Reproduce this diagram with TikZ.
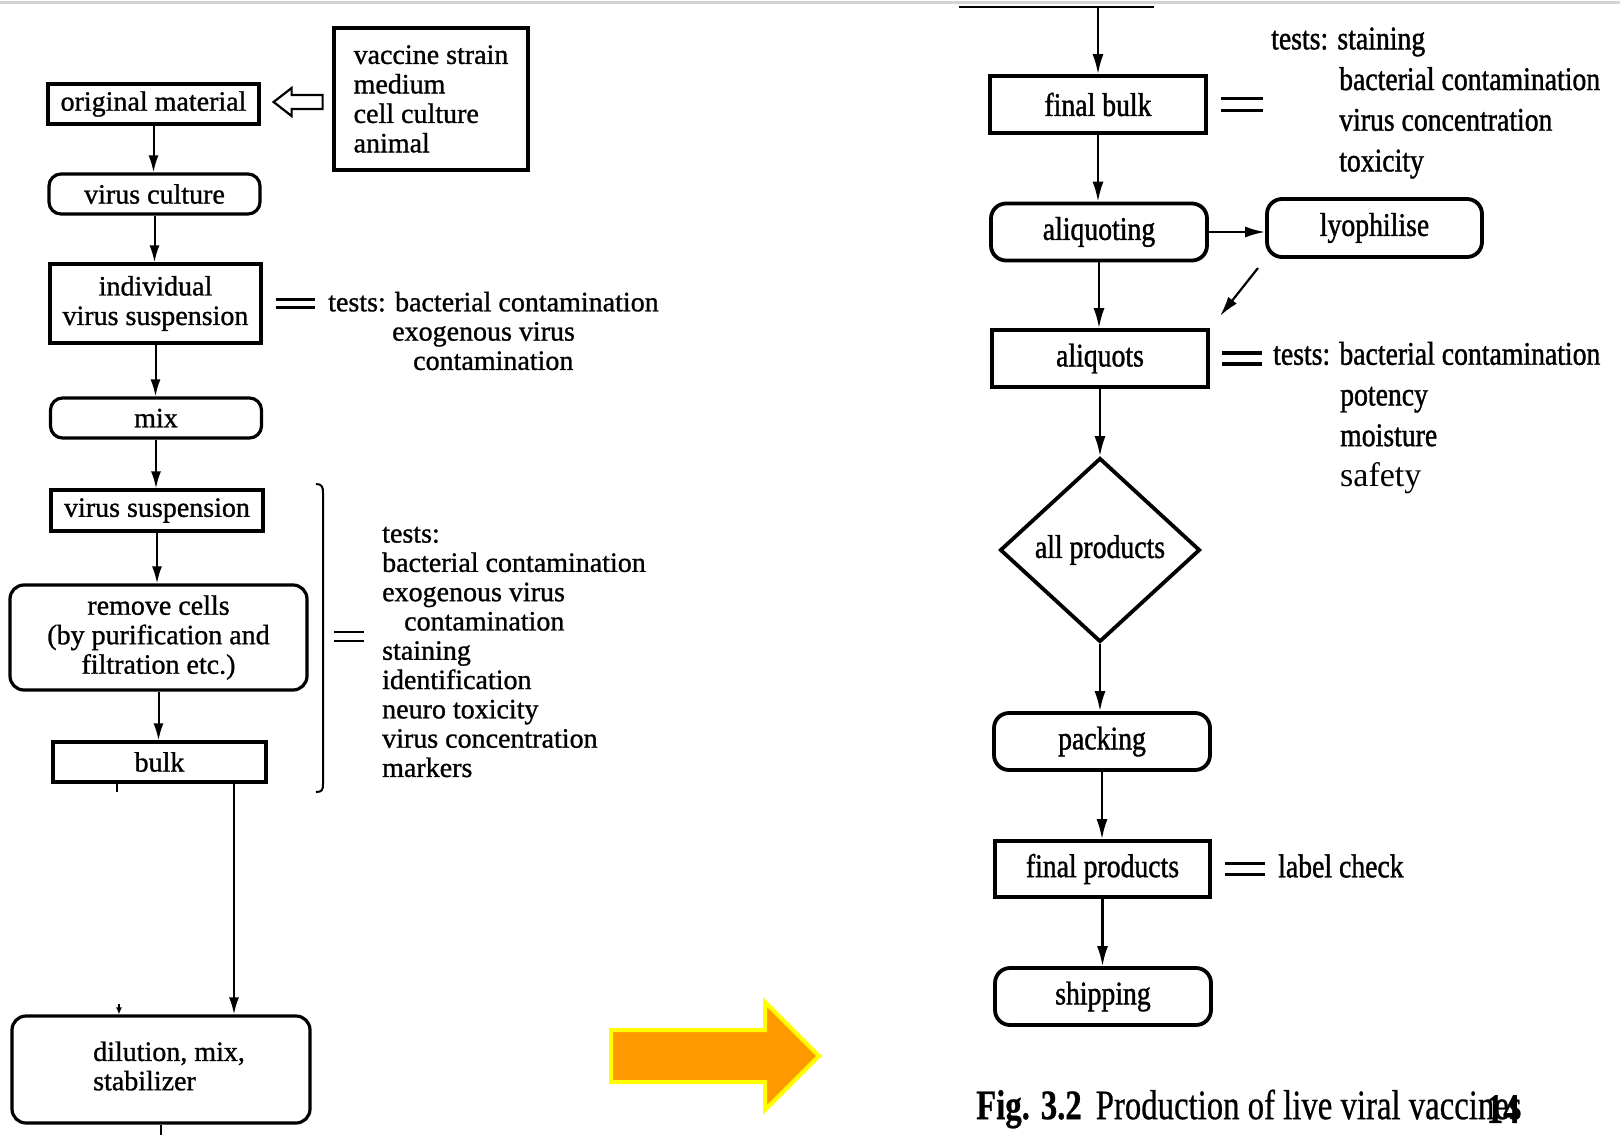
\documentclass[tikz,border=0pt]{standalone}
\usepackage{fontspec}
\setmainfont{Liberation Serif}[FakeBold=1]
\newfontfamily\narrowfont[FakeStretch=0.84,FakeBold=1.2]{Liberation Serif}
\newfontfamily\safetyfont{Liberation Serif}
\newfontfamily\capfont[FakeStretch=0.78,FakeBold=0.6]{Liberation Serif}
\usetikzlibrary{arrows.meta,shapes.geometric,calc}
\definecolor{inkBlack}{HTML}{000000}
\definecolor{scanGray}{HTML}{D4D4D4}
\definecolor{slideOrange}{HTML}{FF9900}
\definecolor{slideYellow}{HTML}{FFFF00}
\tikzset{
  lbox/.style={draw=inkBlack, line width=3.2pt, minimum width=211pt, minimum height=40pt,
        align=center, inner sep=2pt, font=\fontsize{28}{29.5}\selectfont},
  lround/.style={lbox, rounded corners=12pt},
  rbox/.style={draw=inkBlack, line width=3.8pt, minimum width=216pt, minimum height=57pt,
        align=center, inner sep=2pt, font=\narrowfont\fontsize{33}{40}\selectfont},
  rround/.style={rbox, rounded corners=15pt},
  flow/.style={-{Latex[length=17pt,width=10pt]}, line width=2pt, draw=inkBlack},
  rflow/.style={-{Latex[length=20pt,width=11pt]}, line width=2.2pt, draw=inkBlack},
  eqbar/.style={line width=2.8pt, draw=inkBlack},
  ltxt/.style={align=left, anchor=west, inner sep=0pt, font=\fontsize{28}{29.3}\selectfont},
  rtxt/.style={align=left, anchor=west, inner sep=0pt, font=\narrowfont\fontsize{33}{40.7}\selectfont}
}

\begin{document}
\begin{tikzpicture}[x=1pt, y=-1pt,
  hollow/.style={line width=2.2pt, draw=inkBlack, fill=white},
  brace/.style={line width=2pt, draw=inkBlack},
  stub/.style={line width=2pt, draw=inkBlack},
  bigarrow/.style={line width=4pt, draw=slideYellow, fill=slideOrange, line join=miter}
]
\useasboundingbox (0,0) rectangle (1620,1135);
\draw[line width=3pt, draw=scanGray] (0,2) -- (1620,2);

\node[lbox] (orig) at (153.5,104) {original material};
\node[lbox, minimum width=194pt, minimum height=142pt, align=left] (src) at (431,99)
  {vaccine strain\\medium\\cell culture\\animal};
\node[lround] (culture) at (154.5,194) {virus culture};
\node[lbox, minimum height=79pt] (indiv) at (155.5,303.5) {individual\\virus suspension};
\node[lround] (mix) at (156,418) {mix};
\node[lbox, minimum width=212pt, minimum height=41pt] (vsusp) at (157,510.5) {virus suspension};
\node[lround, minimum width=297pt, minimum height=105pt, rounded corners=14pt] (remove) at (158.5,637.5)
  {remove cells\\(by purification and\\filtration etc.)};
\node[lbox, minimum width=213pt] (bulk) at (159.5,762) {bulk};
\node[lround, minimum width=298pt, minimum height=107pt, rounded corners=14pt] (dil) at (161,1069.5) {};
\node[ltxt] (diltxt) at (93,1066) {dilution, mix,\\stabilizer};

\node[ltxt] (tests1) at (328,331) {tests: bacterial contamination\\
  \hspace*{64pt}exogenous virus\\\hspace*{85pt}contamination};
\node[ltxt] (tests2) at (382,652) {tests:\\bacterial contamination\\exogenous virus\\
  \hspace*{22pt}contamination\\staining\\identification\\neuro toxicity\\virus concentration\\markers};

\draw[hollow] ($(orig.east)+(13,-2)$) -- ++(18,-14) -- ++(0,7) -- ++(31,0) -- ++(0,14)
  -- ++(-31,0) -- ++(0,7) -- cycle;
\draw[flow] (orig.south) -- (orig.south |- culture.north);
\draw[flow] (culture.south) -- (culture.south |- indiv.north);
\draw[flow] (indiv.south) -- (indiv.south |- mix.north);
\draw[flow] (mix.south) -- (mix.south |- vsusp.north);
\draw[flow] (vsusp.south) -- (vsusp.south |- remove.north);
\draw[flow] (remove.south) -- (remove.south |- bulk.north);
\coordinate (drop) at (234,0);
\draw[flow] (bulk.south -| drop) -- (dil.north -| drop);
\coordinate (stubA) at (117,792);
\coordinate (stubB) at (119,1004);
\draw[stub] (bulk.south -| stubA) -- (stubA);
\draw[stub, -{Latex[length=7pt,width=6pt]}] (stubB) -- (dil.north -| stubB);
\coordinate (dilout) at (161,1135);
\draw[stub] (dil.south) -- (dilout);

\draw[eqbar] ($(indiv.east)+(13,-4)$) -- ++(39,0);
\draw[eqbar] ($(indiv.east)+(13,4)$) -- ++(39,0);
\draw[brace] (316,484) .. controls (322,484) and (323,487) .. (323,493) -- (323,784)
  .. controls (323,790) and (322,792) .. (316,792);
\coordinate (brk) at (323,636.5);
\draw[eqbar] ($(brk)+(11,-4.5)$) -- ++(30,0);
\draw[eqbar] ($(brk)+(11,4.5)$) -- ++(30,0);

\draw[bigarrow] (611,1030) -- (765,1030) -- (765,1002) -- (819,1056) -- (765,1110)
  -- (765,1082) -- (611,1082) -- cycle;

\coordinate (feedL) at (959,7);
\coordinate (feedR) at (1154,7);
\coordinate (feed) at (1098,7);
\draw[stub] (feedL) -- (feedR);
\node[rbox] (fbulk) at (1098,104.5) {final bulk};
\node[rround] (aliq) at (1099,232) {aliquoting};
\node[rround, minimum width=215pt, minimum height=58pt] (lyo) at (1374.5,228) {lyophilise};
\node[rbox] (aliquots) at (1100,358.5) {aliquots};
\node[diamond, draw=inkBlack, line width=3.8pt, minimum width=200pt, minimum height=184pt,
  inner sep=0pt, font=\narrowfont\fontsize{33}{40}\selectfont] (dia) at (1100,550) {all products};
\node[rround] (pack) at (1102,741.5) {packing};
\node[rbox, minimum width=215pt, minimum height=56pt] (fprod) at (1102.5,869) {final products};
\node[rround] (ship) at (1103,996.5) {shipping};

\node[rtxt] (tests3) at (1271,103) {tests: staining\\\hspace*{68pt}bacterial contamination\\
  \hspace*{68pt}virus concentration\\\hspace*{68pt}toxicity};
\node[rtxt] (tests4) at (1273,418) {tests: bacterial contamination\\\hspace*{67pt}potency\\
  \hspace*{67pt}moisture\\\hspace*{67pt}{\safetyfont\fontsize{34}{40.7}\selectfont safety}};
\node[rtxt] (check) at (1278,866) {label check};

\draw[rflow] (feed) -- (fbulk.north);
\draw[rflow] (fbulk.south) -- (fbulk.south |- aliq.north);
\draw[rflow] (aliq.east) -- (aliq.east -| lyo.west);
\coordinate (dgA) at (1258,268);
\coordinate (dgB) at (1220,316);
\draw[rflow] (dgA) -- (dgB);
\draw[rflow] (aliq.south) -- (aliq.south |- aliquots.north);
\draw[rflow] (aliquots.south) -- (dia.north);
\draw[rflow] (dia.south) -- (dia.south |- pack.north);
\draw[rflow] (pack.south) -- (pack.south |- fprod.north);
\draw[rflow] (fprod.south) -- (fprod.south |- ship.north);

\draw[eqbar, line width=3.6pt] ($(fbulk.east)+(13,-6)$) -- ++(42,0);
\draw[eqbar, line width=3.6pt] ($(fbulk.east)+(13,6)$) -- ++(42,0);
\draw[eqbar, line width=3.6pt] ($(aliquots.east)+(12,-5.5)$) -- ++(40,0);
\draw[eqbar, line width=3.6pt] ($(aliquots.east)+(12,5.5)$) -- ++(40,0);
\draw[eqbar, line width=3.6pt] ($(fprod.east)+(13,-5.5)$) -- ++(40,0);
\draw[eqbar, line width=3.6pt] ($(fprod.east)+(13,5.5)$) -- ++(40,0);

\node[anchor=west, inner sep=0pt, font=\capfont\fontsize{42}{42}\selectfont] (cap) at (976,1109)
  {\textbf{Fig. 3.2}\hspace{14pt}Production of live viral vaccines};
\node[anchor=east, inner sep=0pt, font=\capfont\fontsize{42}{42}\selectfont] (page) at ($(cap.east)+(-2,0)$)
  {\textbf{14}};
\end{tikzpicture}
\end{document}
